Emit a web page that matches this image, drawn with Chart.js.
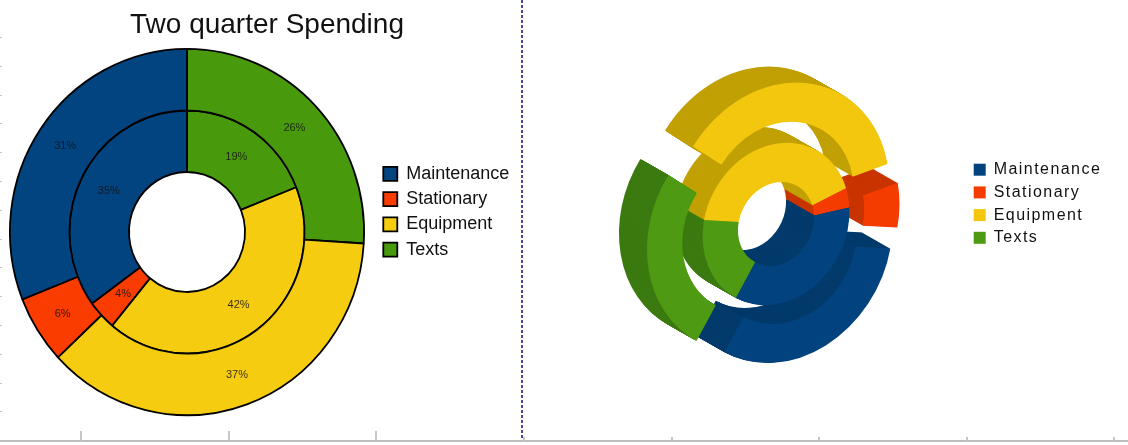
<!DOCTYPE html>
<html>
<head>
<meta charset="utf-8">
<title>Two quarter Spending</title>
<script src="https://cdn.jsdelivr.net/npm/chart.js@4/dist/chart.umd.min.js"></script>
<style>
    html, body { margin: 0; padding: 0; background: #fff; }
    #page { position: relative; width: 1128px; height: 445px; overflow: hidden; }
    canvas { position: absolute; top: 0; }
    #leftChart { left: 0; }
    #rightChart { left: 523px; }
    #divider {
        position: absolute; left: 521px; top: 0; width: 2px; height: 438px;
        background: repeating-linear-gradient(to bottom, #45459c 0 3px, #fff 3px 5px);
    }
    #ruler { position: absolute; left: 0; top: 440px; width: 1128px; height: 2px; background: #bdbdbd; }
    .tick { position: absolute; width: 2px; background: #c6c6c6; }
    .side { position: absolute; left: 0; width: 2px; height: 1px; background: #c4c4c4; }
</style>
</head>
<body>
<div id="page">
    <canvas id="leftChart" width="521" height="445"></canvas>
    <canvas id="rightChart" width="605" height="445"></canvas>
    <div id="divider"></div>
    <div id="ruler"></div>
</div>
<script>
// Chart data, listed the way the legend reads
const categories = ['Maintenance', 'Stationary', 'Equipment', 'Texts'];
const outerValues = [31, 6, 37, 26];
const innerValues = [35, 4, 42, 19];
const chartTitle = 'Two quarter Spending';

// The slices run clockwise from Texts, so the data is fed in reverse
const labelsCw = categories.slice().reverse();
const outerCw = outerValues.slice().reverse();
const innerCw = innerValues.slice().reverse();

// Colors
const flatColors = ['#489a0c', '#f6cc10', '#fb3c00', '#02447f'];
const faceColors = ['#4f9a13', '#f2c70e', '#f43c00', '#02437f'];
const wallColors = ['#3b7a10', '#c1a004', '#c83400', '#023a6b'];

// How far the outer slices are pulled out on the right, in ring radii, Texts first
const outerExplode = [0.28, 0.26, 0.2, 0.27];

Chart.defaults.font.family = '"Liberation Sans", Arial, sans-serif';
Chart.defaults.animation = false;

// Put the title, legend and plot area where the picture has them
const placeBlocks = {
    id: 'placeBlocks',
    afterLayout(chart, args, opts) {
        const area = chart.chartArea;
        area.left = opts.area[0];
        area.top = opts.area[1];
        area.width = opts.area[2];
        area.height = opts.area[3];
        area.right = area.left + area.width;
        area.bottom = area.top + area.height;
        chart.legend.left = opts.legendX;
        chart.legend.top = opts.legendY;
        if (opts.titleCenter) {
            const half = chart.titleBlock.width / 2;
            chart.titleBlock.left = opts.titleCenter - half;
            chart.titleBlock.right = opts.titleCenter + half;
        }
    }
};

// The flat rings are a little taller than wide, percent text goes on top
const flatRings = {
    id: 'flatRings',
    beforeDatasetsDraw(chart, args, opts) {
        const ctx = chart.ctx;
        const cy = (chart.chartArea.top + chart.chartArea.bottom) / 2;
        ctx.save();
        ctx.translate(0, cy);
        ctx.scale(1, opts.stretch);
        ctx.translate(0, -cy);
    },
    afterDatasetsDraw(chart, args, opts) {
        const ctx = chart.ctx;
        const cy = (chart.chartArea.top + chart.chartArea.bottom) / 2;
        ctx.restore();
        ctx.save();
        ctx.font = '11px "Liberation Sans"';
        ctx.fillStyle = 'rgba(20, 20, 20, 0.85)';
        ctx.textAlign = 'center';
        ctx.textBaseline = 'middle';
        chart.data.datasets.forEach((dataset, d) => {
            chart.getDatasetMeta(d).data.forEach((arc, i) => {
                const p = arc.getCenterPoint();
                ctx.fillText(dataset.data[i] + '%', p.x, cy + (p.y - cy) * opts.stretch);
            });
        });
        ctx.restore();
    }
};

// Draws the arcs as a tilted solid: stacked wall layers, then the face
const solidRings = {
    id: 'solidRings',
    beforeDatasetsDraw(chart, args, opts) {
        const ctx = chart.ctx;
        const area = chart.chartArea;
        const cx = (area.left + area.right) / 2;
        const cy = (area.top + area.bottom) / 2;
        const metas = chart.data.datasets.map((d, i) => chart.getDatasetMeta(i));
        const unit = metas[1].data[0].outerRadius;
        const m = opts.matrix;

        for (let layer = opts.depth; layer >= 0; layer--) {
            const t = layer / opts.depth;
            ctx.save();
            ctx.translate(opts.center[0] + opts.extrude[0] * t, opts.center[1] + opts.extrude[1] * t);
            ctx.transform(m[0] / unit, m[1] / unit, m[2] / unit, m[3] / unit, 0, 0);
            ctx.translate(-cx, -cy);
            metas.forEach((meta, d) => {
                meta.data.forEach((arc, i) => {
                    const resolved = arc.options;
                    const pull = d === 0 ? outerExplode[i] * unit : 0;
                    const mid = (arc.startAngle + arc.endAngle) / 2;
                    arc.options = Object.assign({}, resolved, {
                        backgroundColor: layer === 0 ? faceColors[i] : wallColors[i]
                    });
                    ctx.save();
                    ctx.translate(Math.cos(mid) * pull, Math.sin(mid) * pull);
                    arc.draw(ctx);
                    ctx.restore();
                    arc.options = resolved;
                });
            });
            ctx.restore();
        }
        return false;
    }
};

// Wider letter spacing in the right hand legend
const spacedText = {
    id: 'spacedText',
    beforeDraw(chart) {
        chart.ctx.letterSpacing = '1.45px';
    }
};

function initializeCharts() {
    new Chart(document.getElementById('leftChart').getContext('2d'), {
        type: 'doughnut',
        data: {
            labels: labelsCw,
            datasets: [
                { data: outerCw, backgroundColor: flatColors },
                { data: innerCw, backgroundColor: flatColors }
            ]
        },
        options: {
            responsive: false,
            clip: false,
            cutout: 58,
            borderColor: '#000',
            borderWidth: 1.8,
            plugins: {
                placeBlocks: { area: [9, 54, 356, 356], legendX: 376, legendY: 157.5, titleCenter: 267 },
                flatRings: { stretch: 1.034 },
                title: {
                    display: true,
                    text: chartTitle,
                    color: '#111',
                    font: { size: 28, weight: 'normal' },
                    padding: { top: 8, bottom: 10 }
                },
                legend: {
                    position: 'right',
                    align: 'start',
                    reverse: true,
                    labels: { boxWidth: 14, boxHeight: 14, padding: 7.3, color: '#111', font: { size: 18 } }
                },
                tooltip: { enabled: false }
            }
        },
        plugins: [placeBlocks, flatRings]
    });

    new Chart(document.getElementById('rightChart').getContext('2d'), {
        type: 'doughnut',
        data: {
            labels: labelsCw,
            datasets: [
                { data: outerCw, backgroundColor: faceColors },
                { data: innerCw, backgroundColor: faceColors }
            ]
        },
        options: {
            responsive: false,
            clip: false,
            cutout: '35%',
            borderWidth: 0,
            plugins: {
                placeBlocks: { area: [0, 0, 445, 445], legendX: 444, legendY: 155 },
                solidRings: {
                    center: [253, 224],
                    extrude: [-28, -16],
                    depth: 32,
                    matrix: [-61.6, -33.5, 40, -74]
                },
                legend: {
                    position: 'right',
                    align: 'start',
                    reverse: true,
                    labels: { boxWidth: 12, boxHeight: 12, padding: 6.7, color: '#111', font: { size: 16 } }
                },
                tooltip: { enabled: false }
            }
        },
        plugins: [placeBlocks, solidRings, spacedText]
    });
}

// Page furniture: the ruler along the bottom and the side marks
function drawRuler() {
    const page = document.getElementById('page');
    const tickX = [80, 228, 375, 523, 671, 818, 966, 1113];
    tickX.forEach((x, i) => {
        const tick = document.createElement('div');
        tick.className = 'tick';
        const top = i < 3 ? 431 : 437;
        tick.style.cssText = `left:${x}px;top:${top}px;height:${441 - top}px`;
        page.appendChild(tick);
    });
    for (let n = 0; n < 14; n++) {
        const mark = document.createElement('div');
        mark.className = 'side';
        mark.style.top = Math.round(37 + n * 28.8) + 'px';
        page.appendChild(mark);
    }
}

initializeCharts();
drawRuler();
</script>
</body>
</html>
